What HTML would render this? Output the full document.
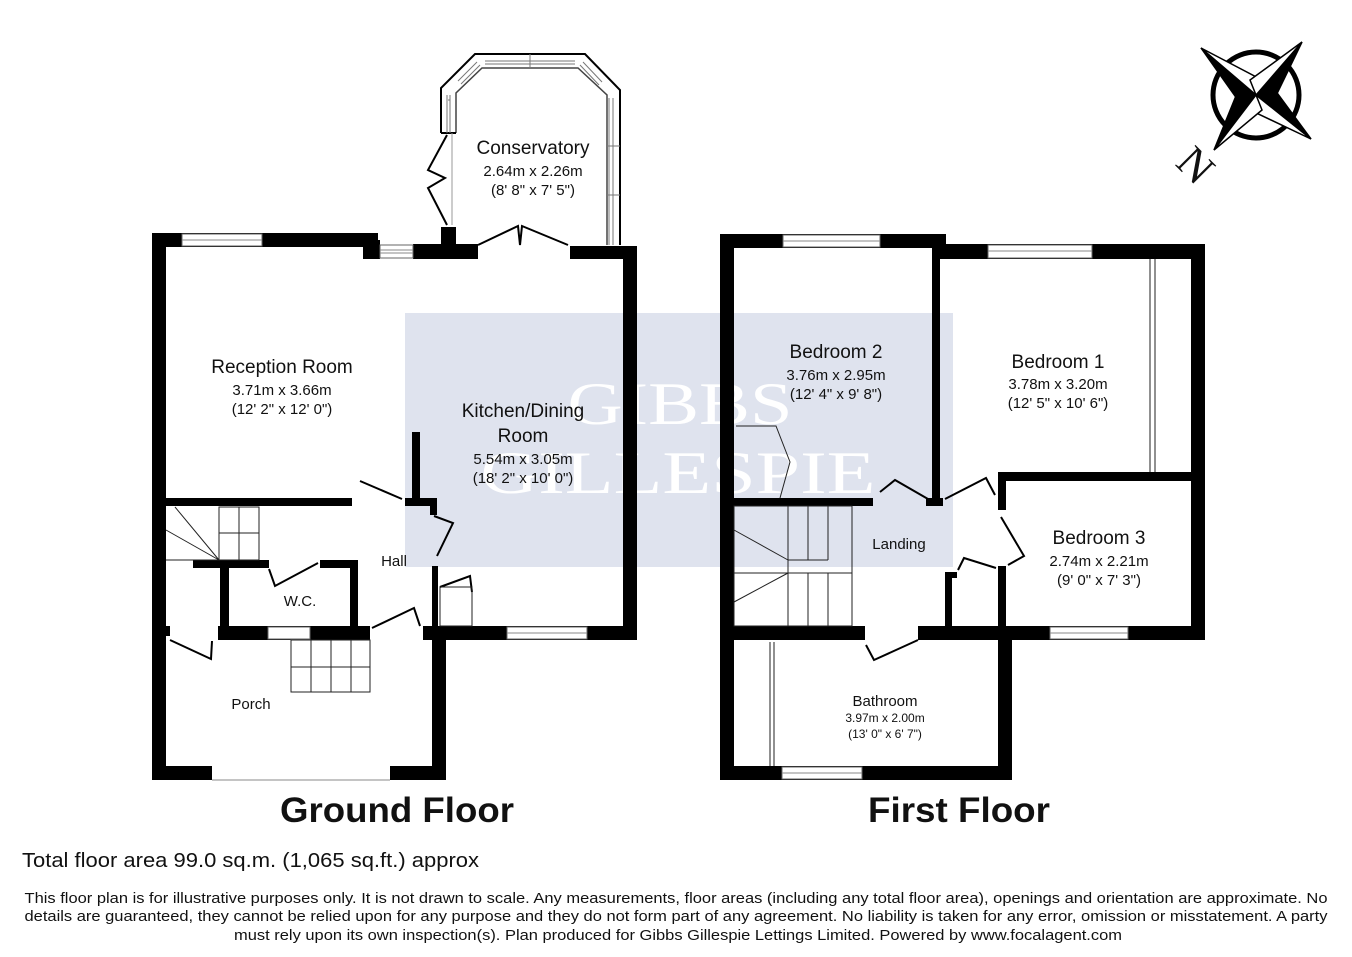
<!DOCTYPE html>
<html><head><meta charset="utf-8"><style>
html,body{margin:0;padding:0;background:#fff;}
svg{display:block;}
text{font-family:"Liberation Sans",sans-serif;fill:#111;}
</style></head><body>
<svg width="1352" height="957" viewBox="0 0 1352 957" xmlns="http://www.w3.org/2000/svg">
<!-- watermark -->
<rect x="405" y="313" width="548" height="254" fill="#dfe3ee"/>
<text x="680" y="424" style="font-family:'Liberation Serif',serif;fill:#fff" font-size="60" text-anchor="middle" textLength="225" lengthAdjust="spacingAndGlyphs">GIBBS</text>
<text x="678" y="493" style="font-family:'Liberation Serif',serif;fill:#fff" font-size="60" text-anchor="middle" textLength="395" lengthAdjust="spacingAndGlyphs">GILLESPIE</text>

<g fill="#000">
<!-- GROUND FLOOR -->
<rect x="152" y="234" width="14" height="546"/>
<rect x="152" y="233" width="226" height="14"/>
<rect x="363" y="240" width="17" height="19"/>
<rect x="413" y="244" width="65" height="15"/>
<rect x="441" y="227" width="15" height="20"/>
<rect x="570" y="246" width="67" height="13"/>
<rect x="623" y="246" width="14" height="394"/>
<rect x="166" y="498" width="186" height="8"/>
<rect x="412" y="432" width="8" height="73"/>
<rect x="405" y="498" width="32" height="8"/>
<rect x="430" y="505" width="7" height="10"/>
<rect x="432" y="566" width="6" height="74"/>
<rect x="423" y="626" width="214" height="14"/>
<rect x="152" y="766" width="60" height="14"/>
<rect x="390" y="766" width="56" height="14"/>
<rect x="432" y="626" width="14" height="154"/>
<rect x="220" y="560" width="9" height="80"/>
<rect x="193" y="560" width="76" height="8"/>
<rect x="320" y="560" width="38" height="8"/>
<rect x="350" y="560" width="8" height="80"/>
<rect x="218" y="626" width="152" height="14"/>
<rect x="166" y="626" width="4" height="10"/>
<!-- FIRST FLOOR -->
<rect x="720" y="234" width="14" height="546"/>
<rect x="720" y="234" width="226" height="14"/>
<rect x="932" y="244" width="273" height="15"/>
<rect x="932" y="248" width="8" height="257"/>
<rect x="926" y="498" width="17" height="8"/>
<rect x="734" y="498" width="139" height="8"/>
<rect x="1191" y="244" width="14" height="396"/>
<rect x="998" y="472" width="207" height="9"/>
<rect x="998" y="472" width="8" height="38"/>
<rect x="998" y="566" width="8" height="74"/>
<rect x="945" y="572" width="7" height="68"/>
<rect x="945" y="572" width="12" height="6"/>
<rect x="918" y="626" width="287" height="14"/>
<rect x="734" y="626" width="131" height="14"/>
<rect x="998" y="626" width="14" height="154"/>
<rect x="720" y="766" width="292" height="14"/>
</g>
<!-- windows -->
<g fill="#fff" stroke="#666" stroke-width="1">
<rect x="182" y="234" width="80" height="12"/>
<rect x="380" y="245" width="33" height="13"/>
<rect x="507" y="627" width="80" height="12"/>
<rect x="268" y="627" width="42" height="12"/>
<rect x="212" y="767" width="178" height="12" stroke="none"/>
<rect x="783" y="235" width="97" height="12"/>
<rect x="988" y="245" width="104" height="13"/>
<rect x="1050" y="627" width="78" height="12"/>
<rect x="782" y="767" width="80" height="12"/>
</g>
<g stroke="#888" stroke-width="1">
<line x1="182" y1="240" x2="262" y2="240"/><line x1="507" y1="633" x2="587" y2="633"/>
<line x1="380" y1="250" x2="413" y2="250"/><line x1="380" y1="253" x2="413" y2="253"/>
<line x1="783" y1="241" x2="880" y2="241"/><line x1="988" y1="251" x2="1092" y2="251"/>
<line x1="1050" y1="633" x2="1128" y2="633"/><line x1="782" y1="773" x2="862" y2="773"/>
<line x1="212" y1="780" x2="390" y2="780"/>
</g>
<!-- conservatory -->
<g fill="none" stroke="#000" stroke-width="2">
<path d="M441,133 L441,88 L475,54 L585,54 L620,90 L620,245"/>
<path d="M456,133 L456,93 L482,68 L578,68 L607,95 L607,245" stroke="#444" stroke-width="1.5"/>
<line x1="441" y1="133" x2="456" y2="133"/>
<line x1="452" y1="133" x2="452" y2="225" stroke="#999" stroke-width="1"/>
<path d="M447,135 L428,170 L445,178 L428,188 L447,225"/>
<path d="M478,245 L518,226 L520,245 L522,226 L568,245"/>
</g>
<g fill="none" stroke="#777" stroke-width="1">
<line x1="485" y1="61" x2="575" y2="61"/><line x1="485" y1="64" x2="575" y2="64"/>
<line x1="530" y1="54" x2="530" y2="68"/>
<line x1="448" y1="100" x2="450" y2="100"/>
<line x1="613" y1="98" x2="613" y2="245"/><line x1="609" y1="98" x2="609" y2="245"/>
<line x1="607" y1="146" x2="620" y2="146"/><line x1="607" y1="195" x2="620" y2="195"/>
<line x1="447" y1="95" x2="447" y2="133"/><line x1="450" y1="95" x2="450" y2="133"/>
<line x1="458" y1="81" x2="477" y2="62"/><line x1="461" y1="84" x2="480" y2="65"/>
<line x1="583" y1="62" x2="602" y2="82"/><line x1="580" y1="65" x2="599" y2="85"/>
</g>
<!-- doors and stairs -->
<g fill="none" stroke="#000" stroke-width="2">
<path d="M402,499 L360,481"/><path d="M434,516 L453,523 L437,556"/>
<path d="M269,569 L275,586 L318,563"/><path d="M372,628 L414,608 L420,626"/>
<path d="M170,640 L211,659 L212,641"/><path d="M440,587 L470,576 L472,592"/>
<path d="M928,499 L895,480 L880,492"/><path d="M945,499 L986,478 L995,495"/>
<path d="M1001,517 L1024,556 L1008,565"/><path d="M996,568 L964,558 L958,570"/>
<path d="M918,640 L874,660 L866,645"/>
</g>
<g fill="none" stroke="#222" stroke-width="1">
<rect x="291" y="640" width="79" height="52"/>
<line x1="291" y1="667" x2="370" y2="667"/>
<line x1="311" y1="640" x2="311" y2="692"/><line x1="331" y1="640" x2="331" y2="692"/><line x1="351" y1="640" x2="351" y2="692"/>
<rect x="219" y="507" width="40" height="53"/>
<line x1="239" y1="507" x2="239" y2="560"/><line x1="219" y1="533" x2="259" y2="533"/>
<line x1="166" y1="530" x2="219" y2="560"/><line x1="166" y1="560" x2="219" y2="560"/><line x1="175" y1="507" x2="219" y2="560"/>
<rect x="440" y="587" width="32" height="39"/>
<rect x="734" y="506" width="118" height="120"/>
<line x1="788" y1="506" x2="788" y2="626"/><line x1="808" y1="506" x2="808" y2="560"/><line x1="828" y1="506" x2="828" y2="560"/>
<line x1="788" y1="560" x2="828" y2="560"/><line x1="734" y1="573" x2="852" y2="573"/>
<line x1="808" y1="573" x2="808" y2="626"/><line x1="828" y1="573" x2="828" y2="626"/>
<line x1="734" y1="530" x2="788" y2="560"/><line x1="734" y1="602" x2="788" y2="573"/>
<path d="M736,426 L776,426 L790,462 L780,498"/>
<line x1="1150" y1="259" x2="1150" y2="472"/><line x1="1155" y1="259" x2="1155" y2="472"/>
<line x1="770" y1="642" x2="770" y2="766"/><line x1="774" y1="642" x2="774" y2="766"/>
</g>
<!-- labels -->
<text x="282" y="373" font-size="19" text-anchor="middle">Reception Room</text>
<text x="282" y="395" font-size="15" text-anchor="middle">3.71m x 3.66m</text>
<text x="282" y="414" font-size="15" text-anchor="middle">(12' 2" x 12' 0")</text>
<text x="523" y="417" font-size="19" text-anchor="middle">Kitchen/Dining</text>
<text x="523" y="442" font-size="19" text-anchor="middle">Room</text>
<text x="523" y="464" font-size="15" text-anchor="middle">5.54m x 3.05m</text>
<text x="523" y="483" font-size="15" text-anchor="middle">(18' 2" x 10' 0")</text>
<text x="533" y="154" font-size="19" text-anchor="middle">Conservatory</text>
<text x="533" y="176" font-size="15" text-anchor="middle">2.64m x 2.26m</text>
<text x="533" y="195" font-size="15" text-anchor="middle">(8' 8" x 7' 5")</text>
<text x="394" y="566" font-size="15" text-anchor="middle">Hall</text>
<text x="300" y="606" font-size="15" text-anchor="middle">W.C.</text>
<text x="251" y="709" font-size="15" text-anchor="middle">Porch</text>
<text x="836" y="358" font-size="19" text-anchor="middle">Bedroom 2</text>
<text x="836" y="380" font-size="15" text-anchor="middle">3.76m x 2.95m</text>
<text x="836" y="399" font-size="15" text-anchor="middle">(12' 4" x 9' 8")</text>
<text x="1058" y="368" font-size="19" text-anchor="middle">Bedroom 1</text>
<text x="1058" y="389" font-size="15" text-anchor="middle">3.78m x 3.20m</text>
<text x="1058" y="408" font-size="15" text-anchor="middle">(12' 5" x 10' 6")</text>
<text x="1099" y="544" font-size="19" text-anchor="middle">Bedroom 3</text>
<text x="1099" y="566" font-size="15" text-anchor="middle">2.74m x 2.21m</text>
<text x="1099" y="585" font-size="15" text-anchor="middle">(9' 0" x 7' 3")</text>
<text x="899" y="549" font-size="15" text-anchor="middle">Landing</text>
<text x="885" y="706" font-size="15" text-anchor="middle">Bathroom</text>
<text x="885" y="722" font-size="12" text-anchor="middle">3.97m x 2.00m</text>
<text x="885" y="738" font-size="12" text-anchor="middle">(13' 0" x 6' 7")</text>
<text x="397" y="822" font-size="35" font-weight="bold" text-anchor="middle" textLength="234" lengthAdjust="spacingAndGlyphs">Ground Floor</text>
<text x="959" y="822" font-size="35" font-weight="bold" text-anchor="middle" textLength="182" lengthAdjust="spacingAndGlyphs">First Floor</text>
<text x="22" y="867" font-size="20" textLength="457" lengthAdjust="spacingAndGlyphs">Total floor area 99.0 sq.m. (1,065 sq.ft.) approx</text>
<text x="676" y="903" font-size="15" text-anchor="middle" textLength="1303" lengthAdjust="spacingAndGlyphs">This floor plan is for illustrative purposes only. It is not drawn to scale. Any measurements, floor areas (including any total floor area), openings and orientation are approximate. No</text>
<text x="676" y="921" font-size="15" text-anchor="middle" textLength="1303" lengthAdjust="spacingAndGlyphs">details are guaranteed, they cannot be relied upon for any purpose and they do not form part of any agreement. No liability is taken for any error, omission or misstatement. A party</text>
<text x="678" y="940" font-size="15" text-anchor="middle" textLength="888" lengthAdjust="spacingAndGlyphs">must rely upon its own inspection(s). Plan produced for Gibbs Gillespie Lettings Limited. Powered by www.focalagent.com</text>
<!-- compass -->
<circle cx="1256" cy="95" r="43" fill="none" stroke="#000" stroke-width="5"/>
<g stroke="#000" stroke-width="1.5">
<polygon points="1201,48 1248,87 1256,95 1240,103" fill="#000"/>
<polygon points="1201,48 1262,80 1256,95" fill="#fff"/>
<polygon points="1302,42 1264,87 1256,95 1250,80" fill="#fff"/>
<polygon points="1302,42 1272,104 1256,95" fill="#000"/>
<polygon points="1311,139 1264,103 1256,95 1272,86" fill="#000"/>
<polygon points="1311,139 1250,110 1256,95" fill="#fff"/>
<polygon points="1214,150 1248,103 1256,95 1262,110" fill="#fff"/>
<polygon points="1214,150 1240,86 1256,95" fill="#000"/>
</g>
<text x="1196" y="180" font-size="44" style="font-family:'Liberation Serif',serif" text-anchor="middle" transform="rotate(45 1196 165)">N</text>
</svg>
</body></html>
